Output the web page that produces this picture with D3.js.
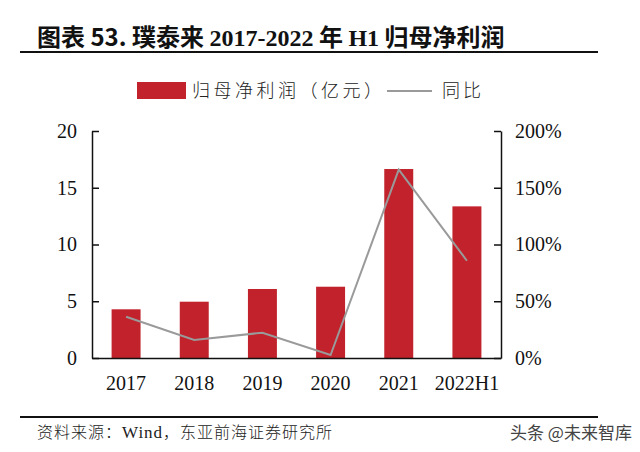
<!DOCTYPE html>
<html><head><meta charset="utf-8">
<script src="https://cdn.jsdelivr.net/npm/d3@7"></script>
<style>
html,body{margin:0;padding:0;background:#fff;}
svg{display:block;}
</style></head>
<body>
<script>
const categories = ["2017","2018","2019","2020","2021","2022H1"];
const profit = [4.29, 4.96, 6.08, 6.28, 16.65, 13.36];
const yoy = [36.4, 15.9, 22.3, 2.6, 166, 85.7];
const leftTicks = [0,5,10,15,20];
const rightTicks = [0,50,100,150,200];

const W=640,H=452;
const svg=d3.select("body").append("svg").attr("width",W).attr("height",H);
svg.append("rect").attr("width",W).attr("height",H).attr("fill","#fff");

const serif="'Liberation Serif','Times New Roman',serif";
const cjk="'Noto Sans CJK SC',sans-serif";

// Title
const t=svg.append("text").attr("x",37).attr("y",46).attr("font-size",24).attr("font-weight","bold").attr("fill","#111");
t.append("tspan").attr("font-family",cjk).text("图表 53. 璞泰来 ");
t.append("tspan").attr("font-family",serif).text("2017-2022");
t.append("tspan").attr("font-family",cjk).text(" 年 ");
t.append("tspan").attr("font-family",serif).text("H1");
t.append("tspan").attr("font-family",cjk).text(" 归母净利润");
svg.append("line").attr("x1",20).attr("x2",598).attr("y1",52).attr("y2",52).attr("stroke","#111").attr("stroke-width",2);

// Scales
const x=d3.scaleBand().domain(categories).range([92,501]).paddingInner(0.575).paddingOuter(0.2875);
const xc=d3.scaleBand().domain(categories).range([92,501]);
const yL=d3.scaleLinear().domain([0,20]).range([358,131]);
const yR=d3.scaleLinear().domain([0,200]).range([358,131]);

// Bars
svg.append("g").selectAll("rect").data(profit).join("rect")
 .attr("x",(d,i)=>x(categories[i])).attr("width",x.bandwidth())
 .attr("y",d=>yL(d)).attr("height",d=>yL(0)-yL(d)).attr("fill","#C1222B");

// Line
const line=d3.line().x((d,i)=>xc(categories[i])+xc.bandwidth()/2).y(d=>yR(d));
svg.append("path").datum(yoy).attr("d",line).attr("fill","none").attr("stroke","#9a9a9a").attr("stroke-width",2);

// Axes
const axL=d3.axisLeft(yL).tickValues(leftTicks).tickSizeInner(-7).tickSizeOuter(0).tickPadding(15);
const gL=svg.append("g").attr("transform","translate(92,0)").call(axL);
const axR=d3.axisRight(yR).tickValues(rightTicks).tickSizeInner(-7).tickSizeOuter(0).tickPadding(14).tickFormat(d=>d+"%");
const gR=svg.append("g").attr("transform","translate(501,0)").call(axR);
const axB=d3.axisBottom(xc).tickSize(0).tickPadding(18);
const gB=svg.append("g").attr("transform","translate(0,358)").call(axB);
[gL,gR,gB].forEach(g=>{
  g.selectAll("path").attr("stroke","#111").attr("stroke-width",1.5);
  g.selectAll("line").attr("stroke","#111").attr("stroke-width",1.5);
  g.selectAll("text").attr("font-family",serif).attr("font-size",20).attr("fill","#111");
});

// Legend
svg.append("rect").attr("x",137).attr("y",82).attr("width",49).attr("height",17).attr("fill","#C1222B");
svg.append("text").attr("x",192).attr("y",97).attr("font-family",cjk).attr("font-size",18).attr("font-weight",300)
 .attr("letter-spacing",3.5).attr("fill","#222").text("归母净利润（亿元）");
svg.append("line").attr("x1",387).attr("x2",432).attr("y1",91).attr("y2",91).attr("stroke","#9a9a9a").attr("stroke-width",2);
svg.append("text").attr("x",442).attr("y",97).attr("font-family",cjk).attr("font-size",18).attr("font-weight",300)
 .attr("letter-spacing",3).attr("fill","#222").text("同比");

// Footer
svg.append("line").attr("x1",20).attr("x2",598).attr("y1",417).attr("y2",417).attr("stroke","#111").attr("stroke-width",2);
const s=svg.append("text").attr("x",37).attr("y",438).attr("font-size",16).attr("fill","#222").attr("font-family",cjk).attr("font-weight",300).attr("letter-spacing",1);
s.append("tspan").text("资料来源：");
s.append("tspan").attr("font-family",serif).attr("font-size",17).text("Wind");
s.append("tspan").text("，东亚前海证券研究所");
svg.append("text").attr("x",510).attr("y",439).attr("font-family",cjk).attr("font-size",17).attr("fill","#444").text("头条 @未来智库");
</script>
</body></html>
